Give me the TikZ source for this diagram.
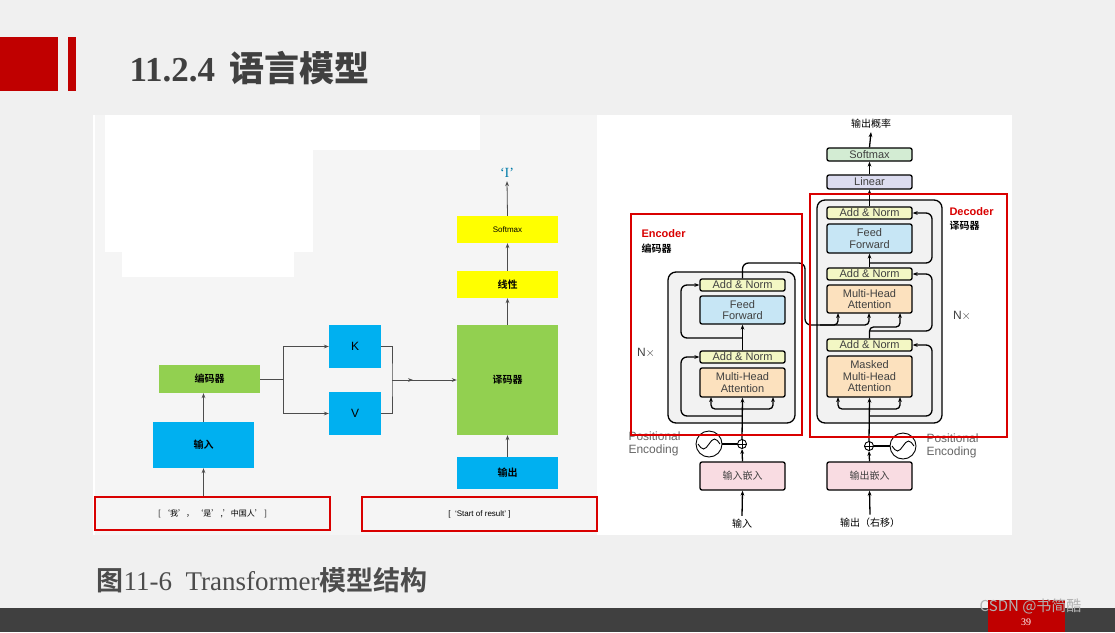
\documentclass[tikz,border=0pt]{standalone}
\usepackage{fontspec}
\setmainfont{Liberation Serif}
\newfontfamily\cjk{Noto Sans CJK SC}
\newfontfamily\cjkb{Noto Sans CJK SC Bold}
\newfontfamily\sfnt{Liberation Sans}
\usetikzlibrary{positioning,calc,arrows.meta}
\definecolor{bgrey}{HTML}{F0F0F0}
\definecolor{pred}{HTML}{C00000}
\definecolor{fblue}{HTML}{00B0F0}
\definecolor{fgreen}{HTML}{92D050}
\definecolor{fyellow}{HTML}{FFFF00}
\definecolor{tnorm}{HTML}{F3F7C4}
\definecolor{tff}{HTML}{C7E6F5}
\definecolor{tatt}{HTML}{FCE1BE}
\definecolor{temb}{HTML}{F9DCE2}
\definecolor{tsoft}{HTML}{D3ECD3}
\definecolor{tlin}{HTML}{DCDCF0}
\tikzstyle{dedge} = [-{Stealth[length=5pt]},draw=black!70,line width=0.8pt]
\tikzstyle{tedge} = [-{Stealth[length=5pt]},draw=black,line width=1.3pt]
\tikzstyle{tline} = [draw=black,line width=1.3pt]
\tikzstyle{block}=[
  rectangle,
  align=center,
  anchor=center,
  inner sep=0pt,
  font=\cjkb\fontsize{10}{12}\selectfont,
]
\tikzstyle{blue}=[block,fill=fblue]
\tikzstyle{green}=[block,fill=fgreen]
\tikzstyle{yellow}=[block,fill=fyellow]
\tikzstyle{tbox}=[
  rectangle,
  rounded corners=2pt,
  draw=black,
  line width=1.3pt,
  align=center,
  anchor=center,
  inner sep=0pt,
  minimum width=85pt,
  font=\sfnt\fontsize{11}{11.5}\selectfont,
  text=black!75,
]
\tikzstyle{redbox}=[draw=red!85!black,line width=2pt]

\begin{document}
\begin{tikzpicture}[x=1pt,y=-1pt]
  \useasboundingbox (0,0) rectangle (1115,632);
  \fill[bgrey] (0,0) rectangle (1115,632);

  % title
  \fill[pred] (0,37) rectangle (58,91);
  \fill[pred] (68,37) rectangle (76,91);
  \node[anchor=west,text=black!75,font=\bfseries\fontsize{35}{36}\selectfont] (title) at (126,68)
    {11.2.4\, {\cjkb 语言模型}};

  % panel
  \fill[white] (93,115) rectangle (1012,535);
  \fill[black!4] (95,115) rectangle (597,535);
  \fill[white] (105,115) rectangle (480,150);
  \fill[white] (105,150) rectangle (313,252);
  \fill[white] (122,252) rectangle (294,277);

  % left diagram
  \node[blue,minimum width=101pt,minimum height=46pt] (input) at (203.5,445) {输入};
  \node[green,minimum width=101pt,minimum height=28pt] (encoder) at (209.5,379) {编码器};
  \node[blue,minimum width=52pt,minimum height=43pt,font=\sfnt\fontsize{12}{12}\selectfont] (K) at (355,346.5) {K};
  \node[blue,minimum width=52pt,minimum height=43pt,font=\sfnt\fontsize{12}{12}\selectfont] (V) at (355,413.5) {V};
  \node[green,minimum width=101pt,minimum height=110pt] (decoder) at (507.5,380) {译码器};
  \node[blue,minimum width=101pt,minimum height=32pt] (output) at (507.5,473) {输出};
  \node[yellow,minimum width=101pt,minimum height=27pt] (linear) at (507.5,284.5) {线性};
  \node[yellow,minimum width=101pt,minimum height=27pt,font=\sfnt\fontsize{8}{8}\selectfont] (softmax) at (507.5,229.5) {Softmax};
  \node[text=fblue!70!black,font=\fontsize{14}{14}\selectfont] (word) at (507,173) {‘I’};
  \node[redbox,minimum width=235pt,minimum height=33pt,font=\cjk\fontsize{8}{8}\selectfont] (srcbox) at (212.5,513.5)
    {[\,‘我’，\,‘是’\,,’中国人’\,]};
  \node[redbox,minimum width=235pt,minimum height=34pt,font=\sfnt\fontsize{8}{8}\selectfont] (tgtbox) at (479.5,514)
    {[\ \ ‘Start of result’\ ]};
  \coordinate (split) at (283,379);
  \coordinate (merge) at (392,380);
  \draw[dedge] (srcbox.north -| input) -- (input.south);
  \draw[dedge] (input.north) -- (encoder.south -| input);
  \draw[draw=black!70,line width=0.8pt] (encoder.east) -- (split);
  \draw[dedge] (split) |- (K.west);
  \draw[dedge] (split) |- (V.west);
  \draw[draw=black!70,line width=0.8pt] (K.east) -| (merge) |- (V.east);
  \draw[dedge] (merge) -- ++(21,0);
  \draw[dedge] (merge) -- (decoder.west);
  \draw[dedge] (output.north) -- (decoder.south);
  \draw[dedge] (decoder.north) -- (linear.south);
  \draw[dedge] (linear.north) -- (softmax.south);
  \draw[dedge] (softmax.north) -- (word.south);

  % right diagram: containers
  \draw[line width=1.3pt,fill=black!5,rounded corners=8pt] (668,272) rectangle (795,423);
  \draw[line width=1.3pt,fill=black!5,rounded corners=8pt] (817,200) rectangle (942,423);

  % encoder stack
  \node[tbox,fill=temb,minimum height=28pt,font=\cjk\fontsize{10}{10}\selectfont] (inemb) at (742.5,476) {输入嵌入};
  \node[tbox,fill=tatt,minimum height=29pt] (emha) at (742.5,382.5) {Multi-Head\\Attention};
  \node[tbox,fill=tnorm,minimum height=12pt] (enorm1) at (742.5,357) {Add \& Norm};
  \node[tbox,fill=tff,minimum height=28pt] (eff) at (742.5,310) {Feed\\Forward};
  \node[tbox,fill=tnorm,minimum height=12pt] (enorm2) at (742.5,285) {Add \& Norm};
  \node[circle,draw,line width=0.9pt,minimum size=9pt,inner sep=0pt] (eplus) at (742,444) {};
  \draw[line width=0.9pt] (eplus.north) -- (eplus.south) (eplus.west) -- (eplus.east);
  \node[circle,draw,line width=0.9pt,minimum size=26pt,inner sep=0pt] (ewave) at (709,444) {};
  \draw[line width=0.9pt] ([xshift=-11pt]ewave.center) sin ([xshift=-5.5pt,yshift=-5pt]ewave.center) cos (ewave.center) sin ([xshift=5.5pt,yshift=5pt]ewave.center) cos ([xshift=11pt]ewave.center);
  \node[text=black!60,font=\sfnt\fontsize{12}{13}\selectfont,align=left,anchor=west] (epos) at (625,444) {Positional\\Encoding};
  \node[font=\cjk\fontsize{10}{10}\selectfont] (srcin) at (742,524) {输入};
  \node[text=black!75,font=\sfnt\fontsize{12}{12}\selectfont] (enx) at (646,353) {N$\times$};

  % decoder stack
  \node[tbox,fill=temb,minimum height=28pt,font=\cjk\fontsize{10}{10}\selectfont] (outemb) at (869.5,476) {输出嵌入};
  \node[tbox,fill=tatt,minimum height=41pt] (dmmha) at (869.5,376.5) {Masked\\Multi-Head\\Attention};
  \node[tbox,fill=tnorm,minimum height=12pt] (dnorm1) at (869.5,345) {Add \& Norm};
  \node[tbox,fill=tatt,minimum height=28pt] (dmha) at (869.5,299) {Multi-Head\\Attention};
  \node[tbox,fill=tnorm,minimum height=12pt] (dnorm2) at (869.5,274) {Add \& Norm};
  \node[tbox,fill=tff,minimum height=29pt] (dff) at (869.5,238.5) {Feed\\Forward};
  \node[tbox,fill=tnorm,minimum height=12pt] (dnorm3) at (869.5,213) {Add \& Norm};
  \node[tbox,fill=tlin,minimum height=14pt] (lin) at (869.5,182) {Linear};
  \node[tbox,fill=tsoft,minimum height=13pt] (soft) at (869.5,154.5) {Softmax};
  \node[font=\cjk\fontsize{10}{10}\selectfont] (prob) at (871,124) {输出概率};
  \node[circle,draw,line width=0.9pt,minimum size=9pt,inner sep=0pt] (dplus) at (869,446) {};
  \draw[line width=0.9pt] (dplus.north) -- (dplus.south) (dplus.west) -- (dplus.east);
  \node[circle,draw,line width=0.9pt,minimum size=26pt,inner sep=0pt] (dwave) at (903,446) {};
  \draw[line width=0.9pt] ([xshift=-11pt]dwave.center) sin ([xshift=-5.5pt,yshift=-5pt]dwave.center) cos (dwave.center) sin ([xshift=5.5pt,yshift=5pt]dwave.center) cos ([xshift=11pt]dwave.center);
  \node[text=black!60,font=\sfnt\fontsize{12}{13}\selectfont,align=left,anchor=west] (dpos) at (923,446) {Positional\\Encoding};
  \node[font=\cjk\fontsize{10}{10}\selectfont] (tgtin) at (870,523) {输出（右移）};
  \node[text=black!75,font=\sfnt\fontsize{12}{12}\selectfont] (dnx) at (962,316) {N$\times$};

  % encoder connectors
  \draw[tedge] (srcin.north) -- (inemb.south);
  \draw[tedge] (inemb.north) -- (eplus.south);
  \draw[tline] (ewave.east) -- (eplus.west);
  \draw[tedge] (eplus.north) -- (emha.south);
  \draw[tedge,rounded corners=4pt] (742,409) -| (711,397);
  \draw[tedge,rounded corners=4pt] (742,409) -| (773,397);
  \draw[tedge,rounded corners=6pt] (742,416) -| (681,357) -- (enorm1.west);
  \draw[tedge] (enorm1.north) -- (eff.south);
  \draw[tedge,rounded corners=6pt] (742,338) -| (681,285) -- (enorm2.west);
  \draw[tline,rounded corners=6pt] (enorm2.north) |- (805,263) |- (838,325);
  \draw[tedge,rounded corners=4pt] (820,325) -| (838,313);
  \draw[tedge,rounded corners=4pt] (838,325) -| (869,313);

  % decoder connectors
  \draw[tedge] (tgtin.north) -- (outemb.south);
  \draw[tedge] (outemb.north) -- (dplus.south);
  \draw[tline] (dwave.west) -- (dplus.east);
  \draw[tedge] (dplus.north) -- (dmmha.south);
  \draw[tedge,rounded corners=4pt] (869,409) -| (838,397);
  \draw[tedge,rounded corners=4pt] (869,409) -| (900,397);
  \draw[tedge,rounded corners=6pt] (869,416) -| (932,345) -- (dnorm1.east);
  \draw[tedge,rounded corners=4pt] (dnorm1.north) |- (900,327) -- (900,313);
  \draw[tedge,rounded corners=6pt] (869,331) -| (932,274) -- (dnorm2.east);
  \draw[tedge] (dnorm2.north) -- (dff.south);
  \draw[tedge,rounded corners=6pt] (869,263) -| (932,213) -- (dnorm3.east);
  \draw[tedge] (dnorm3.north) -- (lin.south);
  \draw[tedge] (lin.north) -- (soft.south);
  \draw[tedge] (soft.north) -- (prob.south);

  % red frames
  \draw[redbox] (631,214) rectangle (802,435);
  \draw[redbox] (810,194) rectangle (1007,437);
  \node[anchor=west,text=red!85!black,font=\sfnt\bfseries\fontsize{11}{11}\selectfont] (enclab) at (638,234) {Encoder};
  \node[anchor=west,font=\cjkb\fontsize{10}{10}\selectfont] (enccn) at (638,249) {编码器};
  \node[anchor=west,text=red!85!black,font=\sfnt\bfseries\fontsize{11}{11}\selectfont] (declab) at (946,212) {Decoder};
  \node[anchor=west,font=\cjkb\fontsize{10}{10}\selectfont] (deccn) at (946,226) {译码器};

  % caption and footer
  \node[anchor=west,text=black!70,font=\fontsize{27}{28}\selectfont] (caption) at (93,580)
    {{\cjkb 图}11-6\ \ Transformer{\cjkb 模型结构}};
  \fill[black!75] (0,608) rectangle (1115,632);
  \fill[pred] (988,600) rectangle (1065,632);
  \node[text=white,font=\fontsize{10}{10}\selectfont] (page) at (1026,622) {39};
  \node[anchor=east,text=black!30,font=\cjk\fontsize{15}{15}\selectfont] (mark) at (1085,606) {CSDN @书简酷};
\end{tikzpicture}
\end{document}
